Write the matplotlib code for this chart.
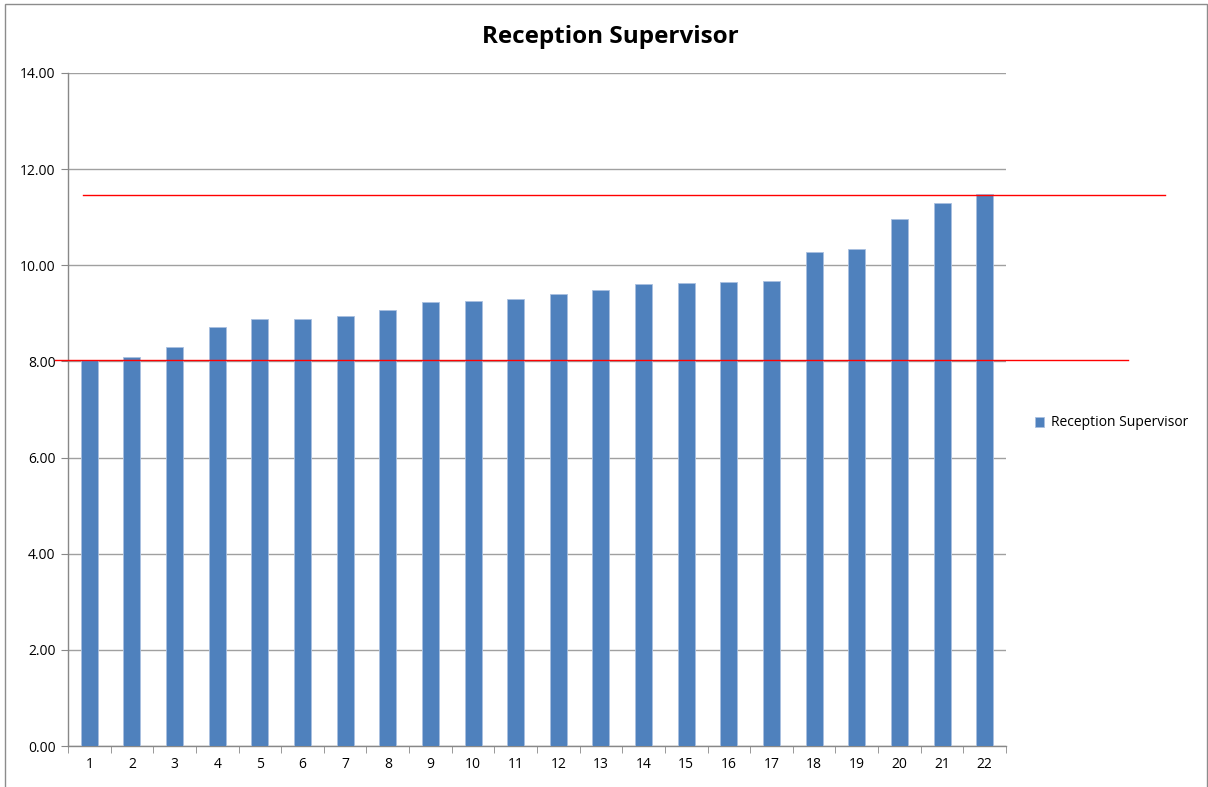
import matplotlib
matplotlib.use("Agg")
import matplotlib.pyplot as plt
import matplotlib.transforms as mtransforms
from matplotlib.patches import Rectangle

categories = [str(i) for i in range(1, 23)]
values = [8.02, 8.09, 8.31, 8.72, 8.88, 8.88, 8.94, 9.06, 9.23, 9.25, 9.30,
          9.40, 9.49, 9.61, 9.63, 9.65, 9.67, 10.28, 10.33, 10.96, 11.30, 11.48]
series_name = "Reception Supervisor"
title = "Reception Supervisor"
lower_ref = 8.02
upper_ref = 11.46
y_ticks = [0, 2, 4, 6, 8, 10, 12, 14]

plt.rcParams['font.family'] = ['Open Sans', 'DejaVu Sans']

W, H = 1208, 787
fig = plt.figure(figsize=(W / 100, H / 100), dpi=100)
ax = fig.add_axes([68 / W, 1 - 746 / H, (1006 - 68) / W, (746 - 73) / H])

x = list(range(len(categories)))
bars = ax.bar(x, values, width=0.4, color='#4F81BD', edgecolor='#A9C0E0',
              linewidth=0.6, label=series_name, zorder=3)

ax.set_xlim(-0.5, len(categories) - 0.5)
ax.set_ylim(0, 14)
ax.set_yticks(y_ticks)
ax.set_yticklabels([f"{t:.2f}" for t in y_ticks], fontsize=10)
ax.set_xticks(x)
ax.set_xticklabels(categories, fontsize=10)
ax.set_xticks([i - 0.5 for i in range(len(categories) + 1)], minor=True)
ax.tick_params(axis='x', which='major', length=0, pad=8)
ax.tick_params(axis='x', which='minor', length=5, color='#888888', direction='out')
ax.tick_params(axis='y', length=5, color='#888888', direction='out', pad=4)

ax.yaxis.grid(True, color='#A0A0A0', linewidth=1.0, zorder=0)
ax.set_axisbelow(True)
for s in ['top', 'right']:
    ax.spines[s].set_visible(False)
for s in ['left', 'bottom']:
    ax.spines[s].set_color('#888888')
    ax.spines[s].set_linewidth(1.0)

# reference lines (extending beyond the plot area)
trans = mtransforms.blended_transform_factory(ax.transAxes, ax.transData)
ax.plot([-0.014, 1.130], [lower_ref, lower_ref], color='#FF0000', linewidth=1.0,
        transform=trans, clip_on=False, zorder=4)
ax.plot([0.016, 1.1695], [upper_ref, upper_ref], color='#FF0000', linewidth=1.0,
        transform=trans, clip_on=False, zorder=4)

fig.text(610 / W, 1 - 37 / H, title, ha='center', va='center',
         fontsize=17.5, fontweight='bold')

leg = fig.legend(handles=[bars], labels=[series_name], loc='center left',
                 bbox_to_anchor=(1022 / W, 1 - 423 / H), frameon=False,
                 fontsize=10, handlelength=0.7, handleheight=0.7,
                 handletextpad=0.5)

# outer chart border
fig.patches.append(Rectangle((5 / W, -0.01), (1207 - 5) / W, 1 - 4 / H + 0.01,
                             transform=fig.transFigure, fill=False,
                             edgecolor='#8C8C8C', linewidth=1.0))

fig.savefig('out.png', dpi=100)
